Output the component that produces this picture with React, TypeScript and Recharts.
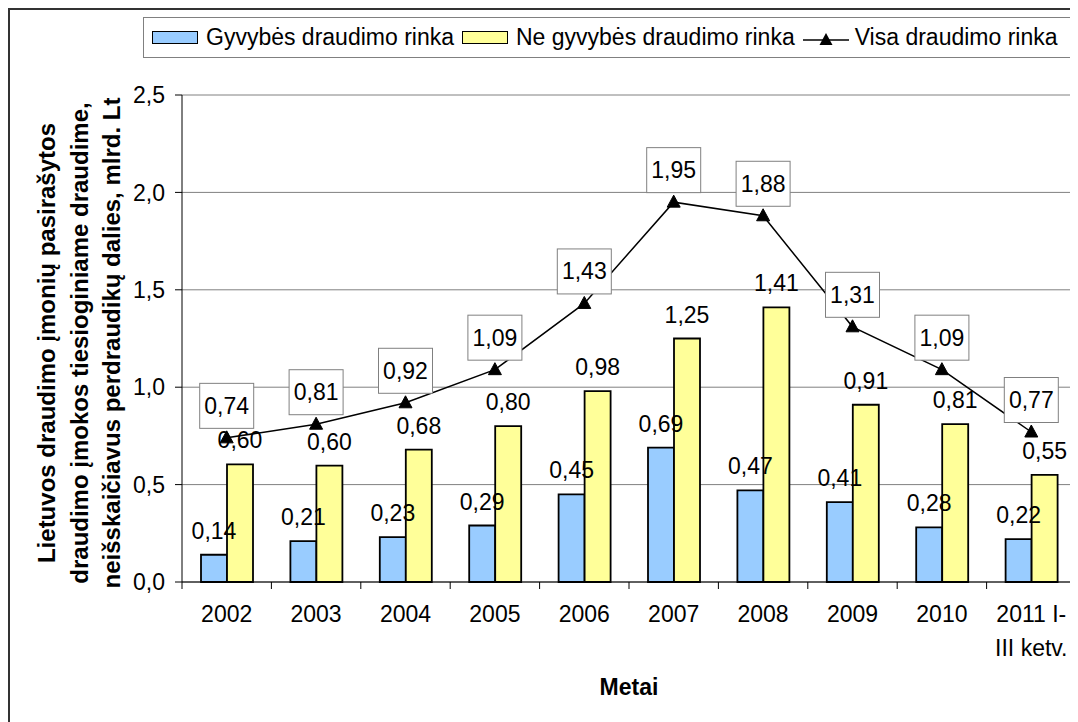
import React from 'react';
import { ComposedChart, Bar, Line, XAxis, YAxis, CartesianGrid, LabelList, Legend, Label } from 'recharts';

const categories = ['2002', '2003', '2004', '2005', '2006', '2007', '2008', '2009', '2010', '2011 I-\nIII ketv.'];
const lifeValues = [0.14, 0.21, 0.23, 0.29, 0.45, 0.69, 0.47, 0.41, 0.28, 0.22];
const nonLifeValues = [0.604, 0.597, 0.68, 0.8, 0.98, 1.25, 1.41, 0.91, 0.81, 0.55];
const totalValues = [0.74, 0.81, 0.92, 1.09, 1.43, 1.95, 1.88, 1.31, 1.09, 0.77];
const yTicks = [0, 0.5, 1, 1.5, 2, 2.5];
const seriesNames = ['Gyvybės draudimo rinka', 'Ne gyvybės draudimo rinka', 'Visa draudimo rinka'];
const yTitleLines = [
  'Lietuvos draudimo įmonių pasirašytos',
  'draudimo įmokos tiesioginiame draudime,',
  'neišskaičiavus perdraudikų dalies, mlrd. Lt',
];
const xTitle = 'Metai';

const data = categories.map((c, i) => ({
  cat: c,
  life: lifeValues[i],
  nonLife: nonLifeValues[i],
  total: totalValues[i],
}));

const FONT = '"Liberation Sans", Arial, sans-serif';
const FS = 23;
const CHART_W = 1068;
const CHART_H = 712;
const MARGIN = { top: 85, right: 2, left: 112, bottom: 40 };
const Y_W = 60;
const PLOT_W = CHART_W - MARGIN.left - Y_W - MARGIN.right;
const BAND = PLOT_W / categories.length;
const BLUE = '#99CCFF';
const YELLOW = '#FFFF99';

const fmt1 = (v: number) => v.toFixed(1).replace('.', ',');
const fmt2 = (v: number) => Number(v).toFixed(2).replace('.', ',');

const XTick = (props: any) => {
  const { x, y, payload } = props;
  const idx = props.index ?? payload.index ?? 0;
  const half = BAND / 2;
  const lines = String(payload.value).split('\n');
  return (
    <g>
      <line x1={x - half} x2={x - half} y1={y} y2={y + 7} stroke="#000" strokeWidth={1} />
      {idx === categories.length - 1 && (
        <line x1={x + half} x2={x + half} y1={y} y2={y + 7} stroke="#000" strokeWidth={1} />
      )}
      <text x={x} y={y + 40} textAnchor="middle" fontSize={FS} fontFamily={FONT} fill="#000">
        {lines.map((l, i) => (
          <tspan key={i} x={x} dy={i === 0 ? 0 : 34}>
            {l}
          </tspan>
        ))}
      </text>
    </g>
  );
};

const BarLabel = (props: any) => {
  const { x, y, width, value } = props;
  return (
    <text x={x + width / 2} y={y - 16} textAnchor="middle" fontSize={FS} fontFamily={FONT} fill="#000">
      {fmt2(value)}
    </text>
  );
};

const LineLabel = (props: any) => {
  const { x, y, value } = props;
  const cy = y - 32;
  return (
    <g>
      <rect x={x - 27} y={cy - 22.5} width={54} height={45} fill="#fff" stroke="#808080" strokeWidth={1} />
      <text x={x} y={cy + 8} textAnchor="middle" fontSize={FS} fontFamily={FONT} fill="#000">
        {fmt2(value)}
      </text>
    </g>
  );
};

const TriangleDot = (props: any) => {
  const { cx, cy, index } = props;
  if (cx == null || cy == null) return <g key={index} />;
  return (
    <polygon
      key={index}
      points={`${cx},${cy - 7} ${cx - 6.5},${cy + 5} ${cx + 6.5},${cy + 5}`}
      fill="#000"
      stroke="#000"
    />
  );
};

const YTitle = () => {
  const cy = 333;
  const xs = [45, 78, 110];
  return (
    <g>
      {yTitleLines.map((l, i) => (
        <text
          key={i}
          x={xs[i]}
          y={cy}
          transform={`rotate(-90 ${xs[i]} ${cy})`}
          textAnchor="middle"
          fontSize={24}
          fontWeight="bold"
          fontFamily={FONT}
          fill="#000"
        >
          {l}
        </text>
      ))}
    </g>
  );
};

const XTitle = (props: any) => {
  const vb = props.viewBox || {};
  const cx = (vb.x ?? 172) + (vb.width ?? PLOT_W) / 2;
  return (
    <text x={cx} y={685} textAnchor="middle" fontSize={FS} fontWeight="bold" fontFamily={FONT} fill="#000">
      {xTitle}
    </text>
  );
};

const Swatch = ({ color }: { color: string }) => (
  <span
    style={{
      display: 'inline-block',
      width: 46,
      height: 13,
      background: color,
      border: '1.5px solid #000',
      boxSizing: 'border-box',
      marginRight: 8,
    }}
  />
);

const LineSwatch = () => (
  <svg width={46} height={20} style={{ marginRight: 6 }}>
    <line x1={0} x2={46} y1={12} y2={12} stroke="#000" strokeWidth={1.5} />
    <polygon points="23,5 16.5,17 29.5,17" fill="#000" />
  </svg>
);

const renderLegend = () => (
  <div
    style={{
      width: 930,
      height: 41,
      border: '1px solid #808080',
      boxSizing: 'border-box',
      display: 'flex',
      alignItems: 'center',
      paddingLeft: 8,
      fontFamily: FONT,
      fontSize: FS,
      color: '#000',
      whiteSpace: 'nowrap',
    }}
  >
    <Swatch color={BLUE} />
    <span style={{ marginRight: 8 }}>{seriesNames[0]}</span>
    <Swatch color={YELLOW} />
    <span style={{ marginRight: 8 }}>{seriesNames[1]}</span>
    <LineSwatch />
    <span>{seriesNames[2]}</span>
  </div>
);

export default function App() {
  return (
    <div
      style={{
        width: 1070,
        height: 714,
        borderLeft: '2px solid #333',
        borderTop: '2px solid #333',
        background: '#fff',
        overflow: 'hidden',
      }}
    >
      <ComposedChart width={CHART_W} height={CHART_H} data={data} margin={MARGIN} barGap={0}>
        <CartesianGrid
          stroke="#808080"
          strokeWidth={1}
          vertical={true}
          verticalCoordinatesGenerator={(p: any) => [p.offset.left + p.offset.width]}
        />
        <XAxis
          dataKey="cat"
          interval={0}
          tickLine={false}
          tickSize={0}
          tickMargin={0}
          axisLine={{ stroke: '#000', strokeWidth: 1 }}
          tick={<XTick />}
          height={100}
        >
          <Label content={<XTitle />} />
        </XAxis>
        <YAxis
          width={Y_W}
          domain={[0, 2.5]}
          ticks={yTicks}
          tickFormatter={fmt1}
          tickSize={7}
          tickMargin={10}
          tickLine={{ stroke: '#000' }}
          axisLine={{ stroke: '#000', strokeWidth: 1 }}
          tick={{ fontSize: FS, fontFamily: FONT, fill: '#000' }}
          interval={0}
        >
          <Label content={<YTitle />} />
        </YAxis>
        <Legend
          layout="horizontal"
          verticalAlign="middle"
          align="center"
          content={renderLegend}
          wrapperStyle={{ top: 7, left: 133, width: 930, height: 41 }}
        />
        <Bar dataKey="life" name={seriesNames[0]} fill={BLUE} stroke="#000" strokeWidth={1.8} barSize={26} isAnimationActive={false}>
          <LabelList dataKey="life" content={<BarLabel />} />
        </Bar>
        <Bar dataKey="nonLife" name={seriesNames[1]} fill={YELLOW} stroke="#000" strokeWidth={1.8} barSize={26} isAnimationActive={false}>
          <LabelList dataKey="nonLife" content={<BarLabel />} />
        </Bar>
        <Line
          dataKey="total"
          name={seriesNames[2]}
          stroke="#000"
          strokeWidth={1.5}
          dot={TriangleDot}
          activeDot={false}
          isAnimationActive={false}
        >
          <LabelList dataKey="total" content={<LineLabel />} />
        </Line>
      </ComposedChart>
    </div>
  );
}
